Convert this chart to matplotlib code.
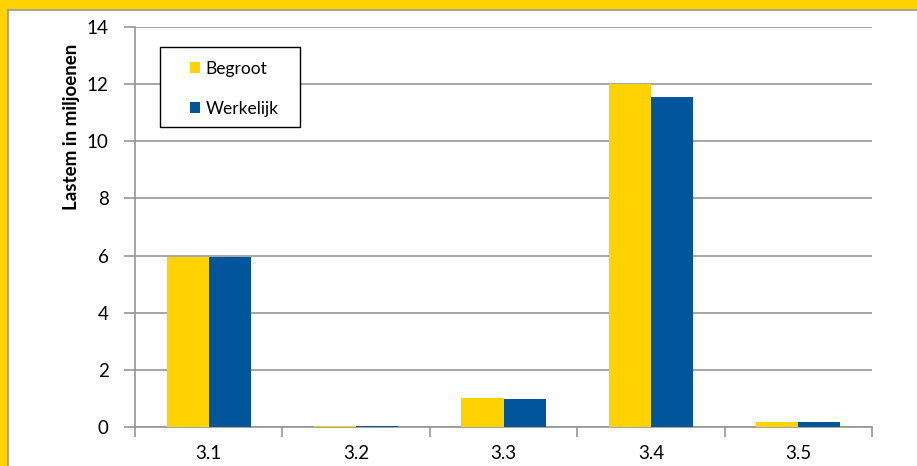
import numpy as np
import matplotlib
matplotlib.use("Agg")
import matplotlib.pyplot as plt
from matplotlib.patches import Rectangle, Patch

plt.rcParams['font.family'] = ['Lato', 'DejaVu Sans']

categories = ['3.1', '3.2', '3.3', '3.4', '3.5']
begroot = [5.95, 0.03, 1.0, 12.0, 0.17]
werkelijk = [5.95, 0.03, 0.98, 11.55, 0.16]
series_names = ['Begroot', 'Werkelijk']
yticks = [0, 2, 4, 6, 8, 10, 12, 14]

yellow = '#FFD200'
blue = '#00559B'
gray = '#969696'

fig = plt.figure(figsize=(9.17, 4.66), dpi=100)
fig.patch.set_facecolor(yellow)

# white chart area with thin gray edge (yellow frame only top and left)
fig.patches.append(Rectangle((8 / 917, -0.1), 1.1, (466 - 10) / 466 + 0.1,
                             transform=fig.transFigure, facecolor='white',
                             edgecolor=gray, linewidth=1.2, zorder=-1))

ax = fig.add_axes([135 / 917, 1 - 427 / 466, (872 - 135) / 917, 400 / 466])
ax.set_zorder(2)
ax.set_facecolor('none')

x = np.arange(len(categories))
w = 0.285
ax.bar(x - w / 2, begroot, width=w, color=yellow, zorder=3)
ax.bar(x + w / 2, werkelijk, width=w, color=blue, zorder=3)

ax.set_xlim(-0.5, len(categories) - 0.5)
ax.set_ylim(0, 14)
ax.set_yticks(yticks)
ax.set_xticks(x)
ax.set_xticklabels(categories)
ax.set_xticks(np.arange(len(categories) + 1) - 0.5, minor=True)
ax.tick_params(axis='x', which='major', length=0, pad=13, labelsize=13.5)
ax.tick_params(axis='x', which='minor', length=7, color=gray, width=1.2, direction='out')
ax.tick_params(axis='y', length=8, color=gray, width=1.2, direction='out', pad=11, labelsize=13.5)

ax.yaxis.grid(True, color=gray, linewidth=1.2, zorder=0)
ax.set_axisbelow(True)
for s in ['top', 'right']:
    ax.spines[s].set_visible(False)
for s in ['left', 'bottom']:
    ax.spines[s].set_color(gray)
    ax.spines[s].set_linewidth(1.2)

ax.set_ylabel('Lastem in miljoenen', fontsize=13.5, fontweight='bold')
ax.yaxis.set_label_coords(-0.075, 0.75)

# legend box
ax.add_patch(Rectangle((25 / 737, 300 / 400), 140 / 737, 80 / 400,
                       transform=ax.transAxes, facecolor='white',
                       edgecolor='black', linewidth=1.0, zorder=5))
handles = [Patch(facecolor=yellow), Patch(facecolor=blue)]
leg = ax.legend(handles, series_names, loc='upper left',
                bbox_to_anchor=(55 / 737, 366 / 400), frameon=False,
                fontsize=12.5, handlelength=0.6, handleheight=0.6,
                handletextpad=0.3, labelspacing=1.37, borderpad=0,
                borderaxespad=0)
leg.set_zorder(6)

fig.savefig('out.png', dpi=100, facecolor=fig.get_facecolor())
